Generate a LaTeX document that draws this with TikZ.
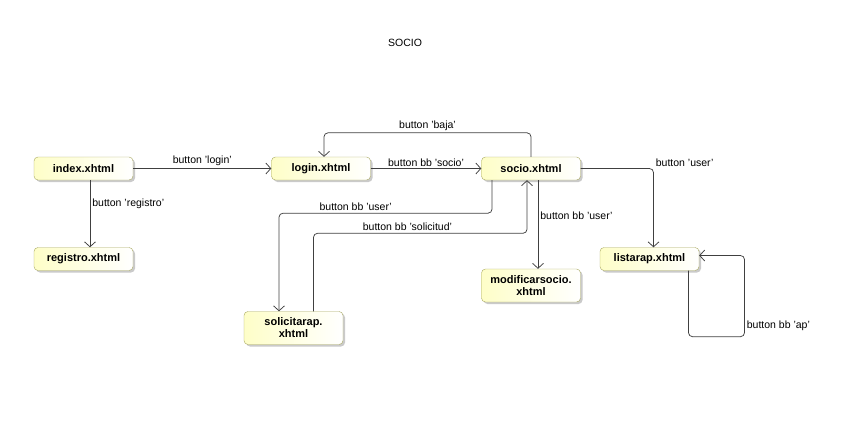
\documentclass[tikz,border=0pt]{standalone}
\usepackage{fontspec}
\setmainfont{Liberation Sans}
\usepackage{tikz}
\usetikzlibrary{arrows.meta,shadows}
\definecolor{boxline}{RGB}{168,168,96}
\definecolor{boxfill}{RGB}{254,254,200}

\begin{document}
\begin{tikzpicture}[x=1pt, y=-1pt,
    page/.style={draw=boxline, rounded corners=4pt, left color=boxfill, right color=white,
                 drop shadow={shadow xshift=2pt, shadow yshift=-2pt, fill=black!35, opacity=0.6},
                 minimum width=99pt, minimum height=23pt, inner sep=1pt, align=center,
                 font=\bfseries\fontsize{11}{12}\selectfont},
    edge/.style={draw=black!75, line width=0.75pt, rounded corners=4pt, -{Straight Barb[length=5pt,width=11pt]}},
    lbl/.style={font=\fontsize{10.5}{12}\selectfont, inner sep=2pt}]
  \useasboundingbox (0,0) rectangle (848,429);

  \node[lbl] (title) at (405,43) {SOCIO};

  \node[page] (index)    at (83.5,168.5) {index.xhtml};
  \node[page] (login)    at (321,168.5)  {login.xhtml};
  \node[page] (socio)    at (531,168.5)  {socio.xhtml};
  \node[page] (registro) at (83.5,259)   {registro.xhtml};
  \node[page] (listarap) at (649.5,259)  {listarap.xhtml};
  \node[page, minimum height=33pt] (modif) at (531,285.5) {modificarsocio.\\xhtml};
  \node[page, minimum height=33pt] (solic) at (293.5,328) {solicitarap.\\xhtml};

  \draw[edge] (index) to node[lbl, above] {button 'login'} (login);
  \draw[edge] ([xshift=6.5pt]index.south) to node[lbl, right, pos=0.35] {button 'registro'} ([xshift=6.5pt]registro.north);
  \draw[edge] (login) to node[lbl, above] {button bb 'socio'} (socio);
  \draw[edge] (socio.north) -- ++(0,-24) -| node[lbl, above, pos=0.25] {button 'baja'} ([xshift=3pt]login.north);
  \draw[edge] ([xshift=-39pt]socio.south) -- ++(0,33) -| node[lbl, above, pos=0.32] {button bb 'user'} ([xshift=-14.5pt]solic.north);
  \draw[edge] ([xshift=20pt]solic.north) -- ++(0,-78) -| node[lbl, above, pos=0.22] {button bb 'solicitud'} ([xshift=-4pt]socio.south);
  \draw[edge] ([xshift=7pt]socio.south) to node[lbl, right, pos=0.4] {button bb 'user'} ([xshift=7pt]modif.north);
  \draw[edge] (socio.east) -| node[lbl, above right, pos=0.5] {button 'user'} ([xshift=4pt]listarap.north);
  \draw[edge] ([xshift=39pt]listarap.south) -- ++(0,66) -- ++(56,0) |- node[lbl, right, pos=0.07] {button bb 'ap'} ([yshift=3.5pt]listarap.east);
\end{tikzpicture}
\end{document}
